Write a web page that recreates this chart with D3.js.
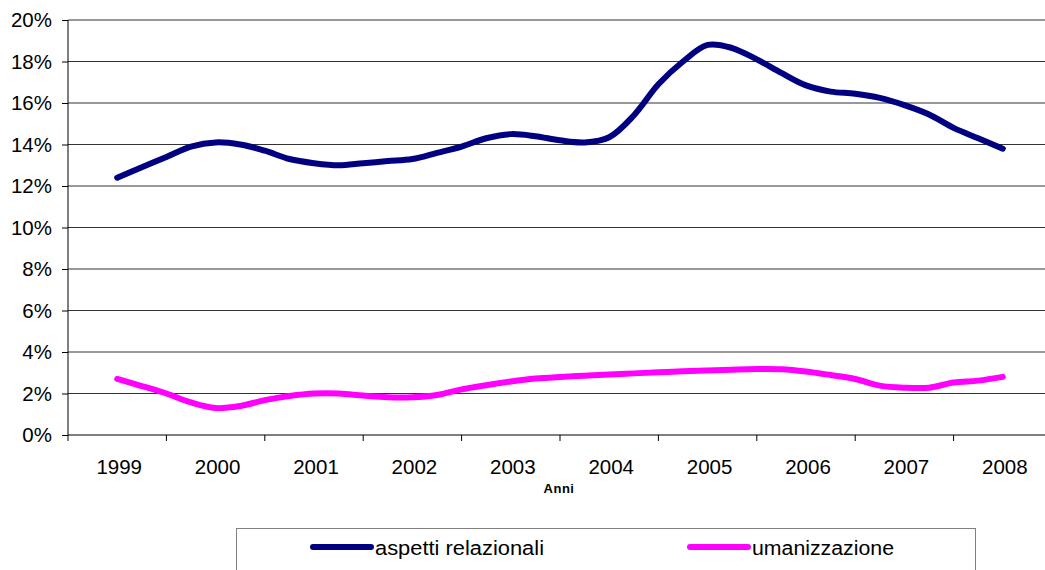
<!DOCTYPE html>
<html lang="it">
<head>
<meta charset="UTF-8">
<title>Aspetti relazionali e umanizzazione</title>
<script src="https://d3js.org/d3.v7.min.js"></script>
<style>
body { margin: 0; background: white; }
#chart svg { display: block; font-family: 'Liberation Sans', Arial, sans-serif; }
.grid line { stroke: #333; stroke-width: 1px; }
.axis text { font-size: 20.5px; fill: #000; }
.axis path, .axis line { stroke: #000; }
.serie { fill: none; stroke-width: 6px; stroke-linecap: round; stroke-linejoin: round; }
.legend text { font-size: 20px; fill: #000; }
</style>
</head>
<body>
<div id="chart"></div>
<script>

// ---- data (quarterly samples 1999 -> 2008) ----
const anni = ["1999", "2000", "2001", "2002", "2003", "2004", "2005", "2006", "2007", "2008"];
const yTicks = [0, 2, 4, 6, 8, 10, 12, 14, 16, 18, 20];

const aspettiRelazionali = [
  12.4, 12.9, 13.4, 13.9, 14.1, 14.0, 13.7, 13.3, 13.1, 13.0, 13.1, 13.2, 13.3,
  13.6, 13.9, 14.3, 14.5, 14.4, 14.2, 14.1, 14.35, 15.4, 16.9, 18.0, 18.8,
  18.65, 18.1, 17.45, 16.85, 16.55, 16.45, 16.25, 15.9, 15.45, 14.8, 14.3, 13.8
];
const umanizzazione = [
  2.7, 2.36, 2.0, 1.57, 1.3, 1.4, 1.68, 1.88, 2.0, 2.0, 1.9, 1.82, 1.82,
  1.93, 2.2, 2.4, 2.58, 2.72, 2.8, 2.86, 2.92, 2.97, 3.02, 3.07, 3.11,
  3.15, 3.18, 3.17, 3.06, 2.89, 2.7, 2.38, 2.28, 2.28, 2.53, 2.62, 2.8
];

const serie = [
  {nome: "aspetti relazionali", valori: aspettiRelazionali, colore: "#000080"},
  {nome: "umanizzazione", valori: umanizzazione, colore: "#FF00FF"}
];

// ---- size ----
const W = 1045, H = 570;
const plot = {left: 68, right: 1052, top: 20, bottom: 435};

const svg = d3.select("#chart").append("svg")
  .attr("width", W)
  .attr("height", H);

// ---- scales ----
const xBand = d3.scaleBand()
  .domain(anni)
  .range([plot.left, plot.right]);

const xPunti = d3.scaleLinear()
  .domain([0, aspettiRelazionali.length - 1])
  .range([xBand(anni[0]) + xBand.bandwidth() / 2, xBand(anni[anni.length - 1]) + xBand.bandwidth() / 2]);

const y = d3.scaleLinear()
  .domain([0, 20])
  .range([plot.bottom, plot.top]);

// ---- gridlines ----
svg.append("g")
  .attr("class", "grid")
  .selectAll("line")
  .data(yTicks.filter(d => d > 0))
  .join("line")
  .attr("x1", plot.left)
  .attr("x2", W)
  .attr("y1", d => y(d))
  .attr("y2", d => y(d));

// ---- axes ----
const yAxis = svg.append("g")
  .attr("class", "axis")
  .attr("transform", `translate(${plot.left},0)`)
  .call(d3.axisLeft(y)
    .tickValues(yTicks)
    .tickFormat(d => d + "%")
    .tickSize(6)
    .tickPadding(10));
yAxis.select(".domain").attr("d", `M0,${plot.top}V${plot.bottom}`);

const xAxis = svg.append("g")
  .attr("class", "axis")
  .attr("transform", `translate(0,${plot.bottom})`)
  .call(d3.axisBottom(xBand).tickSize(0).tickPadding(24));
xAxis.select(".domain").attr("d", `M${plot.left},0H${W}`);
xAxis.selectAll(".tick text").attr("dx", 2);

// tick marks between categories
xAxis.selectAll(".sep")
  .data(anni)
  .join("line")
  .attr("class", "sep")
  .attr("x1", d => xBand(d))
  .attr("x2", d => xBand(d))
  .attr("y1", 0)
  .attr("y2", 6)
  .attr("stroke", "#000");

svg.append("text")
  .attr("x", 559)
  .attr("y", 493)
  .attr("text-anchor", "middle")
  .attr("font-size", "13px")
  .attr("font-weight", "bold")
  .attr("letter-spacing", "0.5px")
  .text("Anni");

// ---- lines ----
const linea = d3.line()
  .curve(d3.curveCatmullRom.alpha(0.5))
  .x((d, i) => xPunti(i))
  .y(d => y(d));

svg.selectAll(".serie")
  .data(serie)
  .join("path")
  .attr("class", "serie")
  .attr("stroke", d => d.colore)
  .attr("d", d => linea(d.valori));

// ---- legend ----
const legend = svg.append("g").attr("class", "legend");

legend.append("rect")
  .attr("x", 236.5)
  .attr("y", 528.5)
  .attr("width", 739)
  .attr("height", 60)
  .attr("fill", "white")
  .attr("stroke", "#808080");

const legX = [313, 690];
const legLen = [169, 142];
serie.forEach((s, i) => {
  legend.append("line")
    .attr("x1", legX[i])
    .attr("x2", legX[i] + 58)
    .attr("y1", 547)
    .attr("y2", 547)
    .attr("stroke", s.colore)
    .attr("stroke-width", 6)
    .attr("stroke-linecap", "round");
  legend.append("text")
    .attr("x", legX[i] + 62)
    .attr("y", 555)
    .attr("textLength", legLen[i])
    .attr("lengthAdjust", "spacingAndGlyphs")
    .text(s.nome);
});

</script>
</body>
</html>
